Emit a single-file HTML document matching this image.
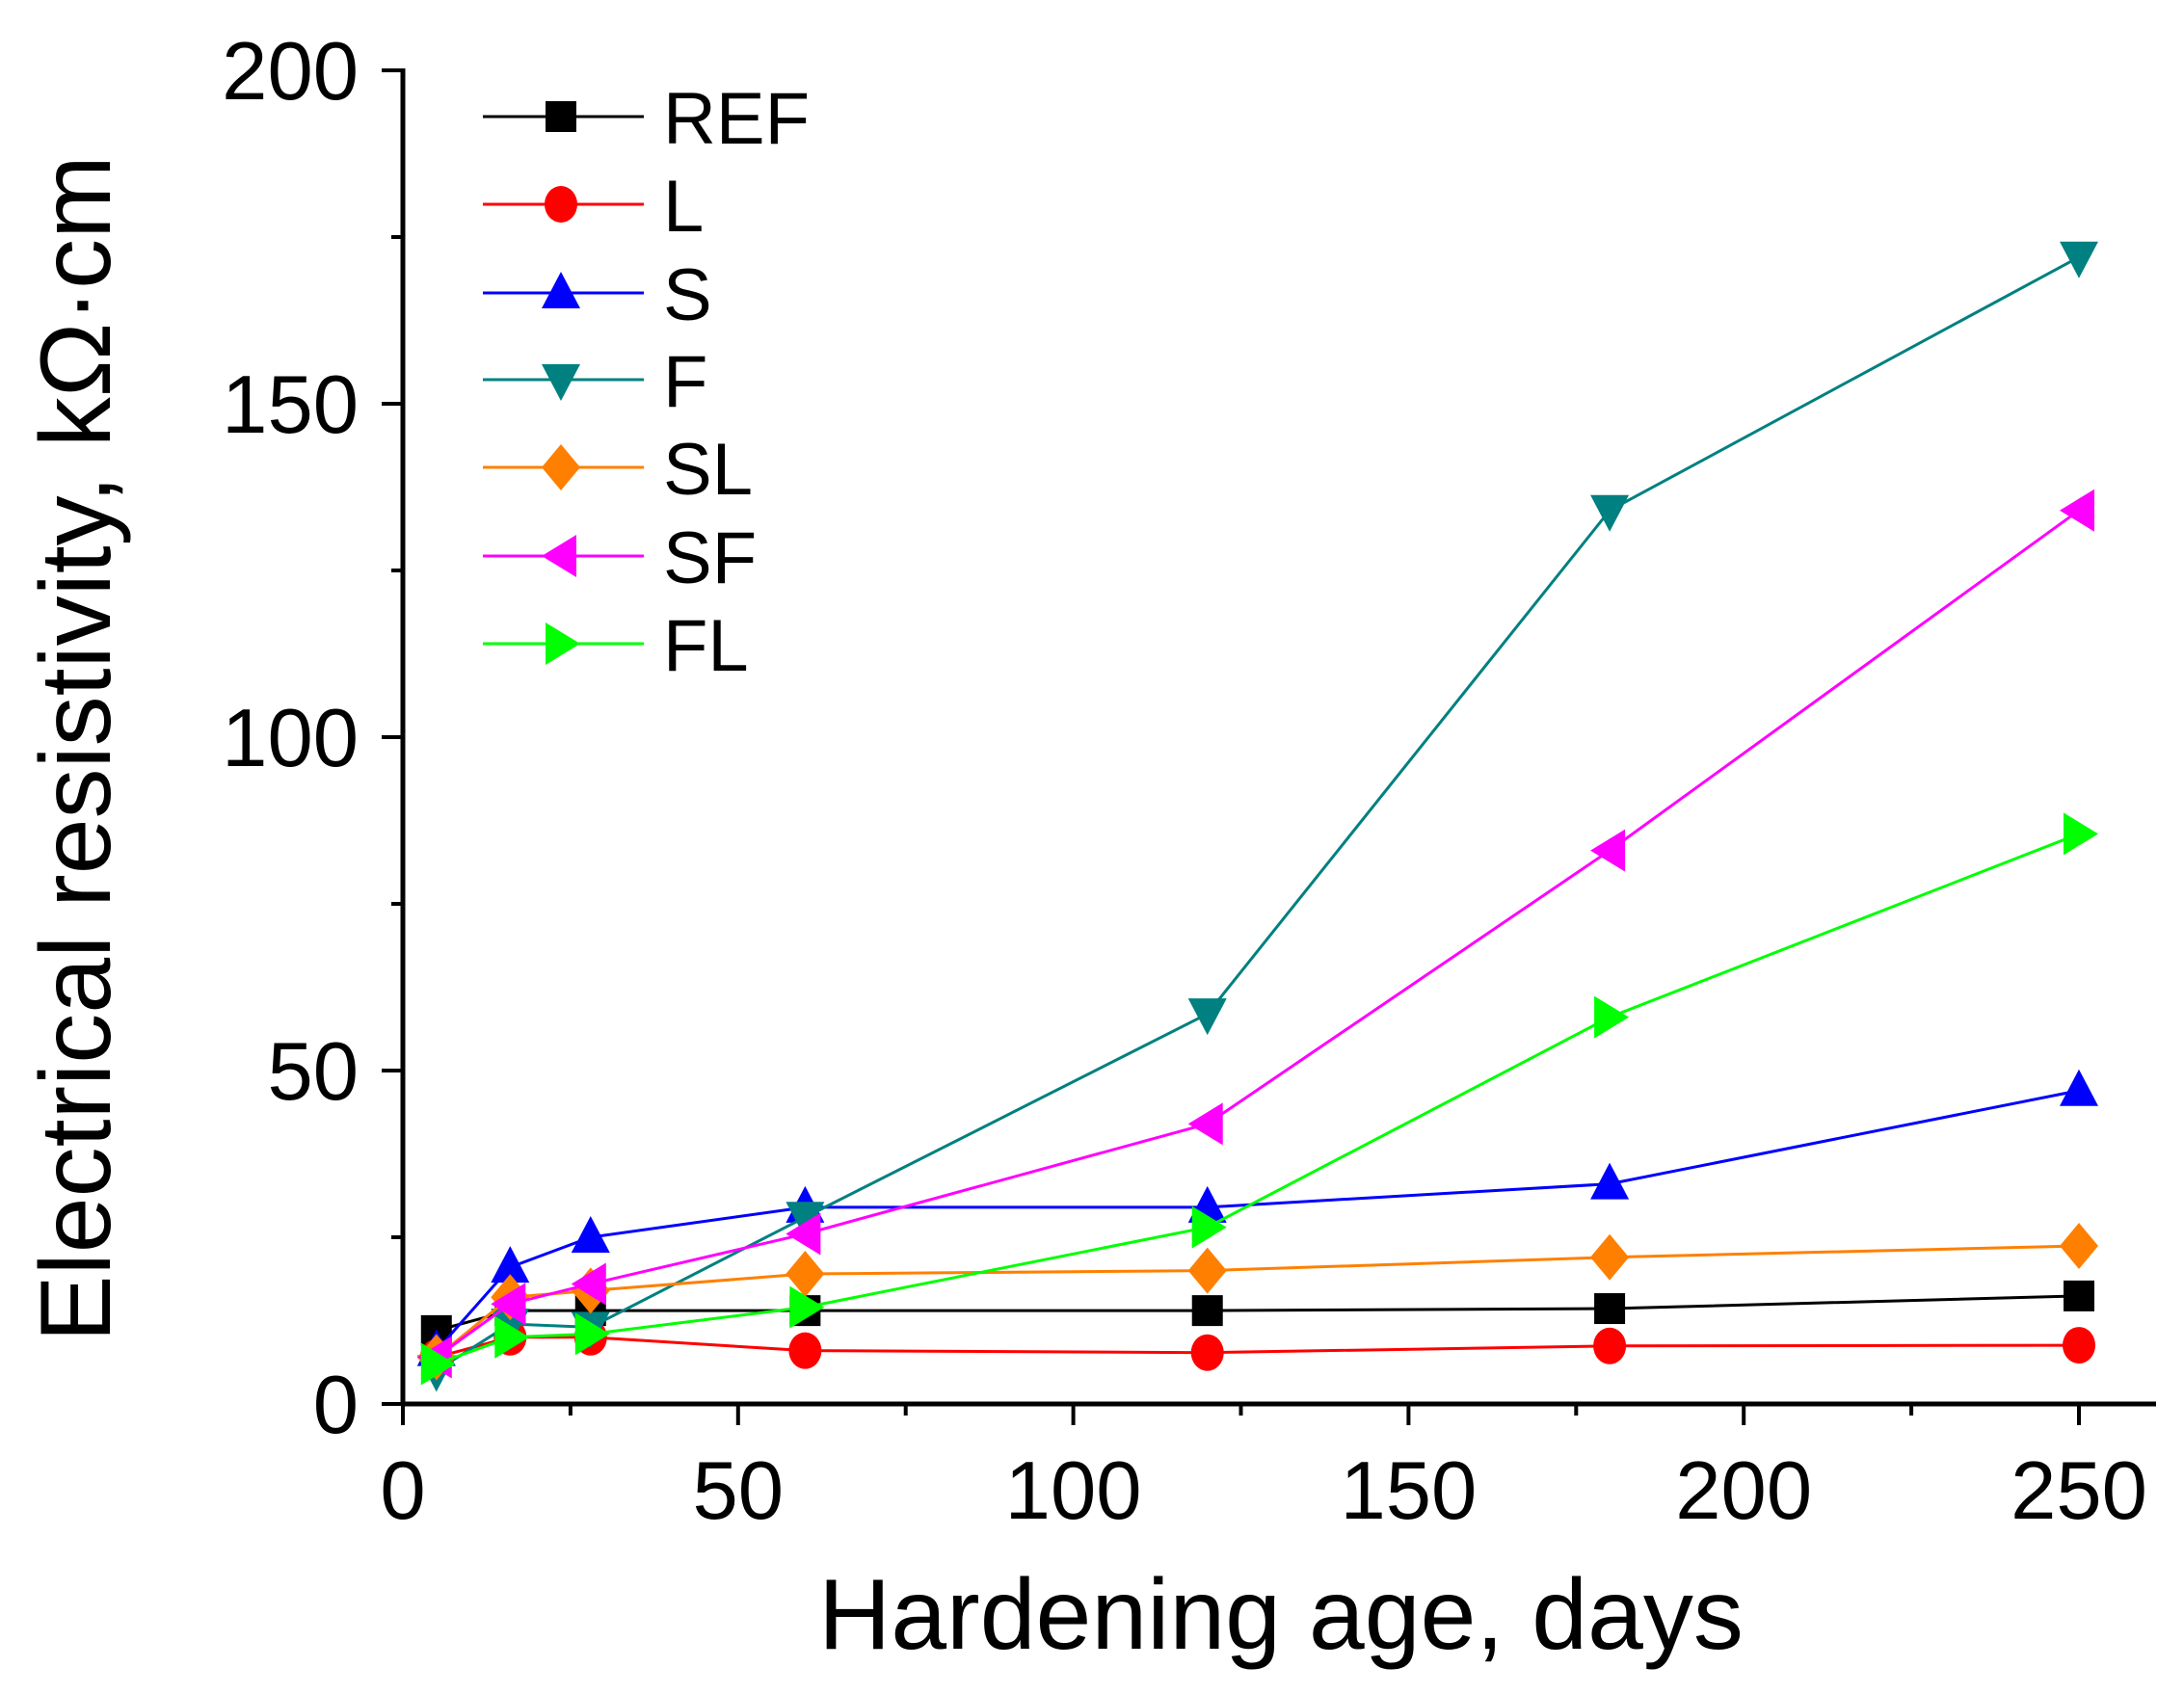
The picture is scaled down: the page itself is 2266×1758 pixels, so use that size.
<!DOCTYPE html>
<html><head><meta charset="utf-8"><style>
html,body{margin:0;padding:0;background:#fff;}
svg{display:block;font-family:"Liberation Sans",sans-serif;}
</style></head><body>
<svg id="chart" width="2266" height="1758" viewBox="0 0 2266 1758" xmlns="http://www.w3.org/2000/svg">
<g id="axes"></g>
<g id="series"></g>
<g id="legend"></g>
<text x="1329" y="1711" font-size="104" text-anchor="middle">Hardening age, days</text>
<text transform="translate(114,777) rotate(-90)" font-size="104" text-anchor="middle">Electrical resistivity, kΩ·cm</text>
</svg>
<script>
const days = [5, 16, 28, 60, 120, 180, 250];
const seriesNames = ["REF", "L", "S", "F", "SL", "SF", "FL"];
const refValues = [11, 14, 14, 14, 14, 14.3, 16.2];
const lValues = [7, 10, 10, 8, 7.7, 8.7, 8.8];
const sValues = [8, 20.5, 25, 29.5, 29.5, 33, 47];
const fValues = [5, 12, 11.5, 28, 58.5, 134, 172];
const slValues = [7, 16, 17, 19.5, 20, 22, 23.7];
const sfValues = [7, 15, 18, 25.5, 42, 83, 134];
const flValues = [6, 10, 10.5, 14.5, 26.5, 58, 85.5];
const xTicks = [0, 50, 100, 150, 200, 250];
const yTicks = [0, 50, 100, 150, 200];

const NS = "http://www.w3.org/2000/svg";
const X0 = 418, X1 = 2157, Y0 = 1457, Y1 = 73;
function sx(v){ return X0 + (v/250)*(X1-X0); }
function sy(v){ return Y0 - (v/200)*(Y0-Y1); }
function mk(tag, attrs, parent){
  const e = document.createElementNS(NS, tag);
  for (const k in attrs) e.setAttribute(k, attrs[k]);
  parent.appendChild(e); return e;
}
const axes = document.getElementById('axes');
let el;
el = mk('line', {x1:X0, y1:Y1-2, x2:X0, y2:Y0+2, stroke:'#000','stroke-width':5}, axes);


el = mk('line', {x1:X0-2, y1:Y0, x2:2237, y2:Y0, stroke:'#000','stroke-width':5}, axes);


for (let v = 0; v <= 260; v += 25) {
  const major = v % 50 === 0;
  el = mk('line', {x1:sx(v), y1:Y0, x2:sx(v), y2:Y0 + (major?22:12), stroke:'#000','stroke-width':4}, axes);
  
  
}
xTicks.forEach(v => {
  const t = mk('text', {x:sx(v), y:1576, 'font-size':85, 'text-anchor':'middle'}, axes);
  t.textContent = v;
  
  
});
for (let v = 0; v <= 200; v += 25) {
  const major = v % 50 === 0;
  el = mk('line', {x1:X0 - (major?22:12), y1:sy(v), x2:X0, y2:sy(v), stroke:'#000','stroke-width':4}, axes);
  
  
}
yTicks.forEach(v => {
  const t = mk('text', {x:372, y:sy(v)+30, 'font-size':85, 'text-anchor':'end'}, axes);
  t.textContent = v;
  
  
});

const allValues = [refValues, lValues, sValues, fValues, slValues, sfValues, flValues];
const colors = ['#000000', '#ff0000', '#0000ff', '#008080', '#ff8000', '#ff00ff', '#00ff00'];
const shapes = ['square', 'circle', 'up', 'down', 'diamond', 'left', 'right'];
function marker(g, shape, x, y, c){
  const r = 18;
  let e;
  if (shape === 'square') e = mk('rect', {x:x-r+2, y:y-r+2, width:2*r-4, height:2*r-4, fill:c}, g);
  else if (shape === 'circle') e = mk('ellipse', {cx:x, cy:y, rx:r-1, ry:r+1, fill:c}, g);
  else {
    let p;
    if (shape === 'up') p = [[x,y-r-4],[x+r+2,y+r-2],[x-r-2,y+r-2]];
    if (shape === 'down') p = [[x,y+r+4],[x+r+2,y-r+2],[x-r-2,y-r+2]];
    if (shape === 'diamond') p = [[x,y-r-6],[x+r+2,y],[x,y+r+6],[x-r-2,y]];
    if (shape === 'left') p = [[x-r-2,y],[x+r-2,y-r-4],[x+r-2,y+r+4]];
    if (shape === 'right') p = [[x+r+2,y],[x-r+2,y-r-4],[x-r+2,y+r+4]];
    e = mk('polygon', {points:p.map(q => q.join(',')).join(' '), fill:c}, g);
  }
  return e;
}
const sg = document.getElementById('series');
allValues.forEach((vals, i) => {
  const g = mk('g', {}, sg);
  
  
  const line = mk('polyline', {points: vals.map((v, j) => sx(days[j]) + ',' + sy(v)).join(' '), fill:'none', stroke:colors[i], 'stroke-width':3}, g);
  
  
  vals.forEach((v, j) => {
    const m = marker(g, shapes[i], sx(days[j]), sy(v), colors[i]);
    
    
  });
});

const lg = document.getElementById('legend');
const legendY = [121, 212, 304, 394, 485, 577, 668];
seriesNames.forEach((n, i) => {
  const g = mk('g', {}, lg);
  
  
  mk('line', {x1:501, y1:legendY[i], x2:668, y2:legendY[i], stroke:colors[i], 'stroke-width':3}, g);
  marker(g, shapes[i], 582, legendY[i], colors[i]);
  const t = mk('text', {x:688, y:legendY[i]+28, 'font-size':76}, g);
  t.textContent = n;
});
</script>
</body></html>
